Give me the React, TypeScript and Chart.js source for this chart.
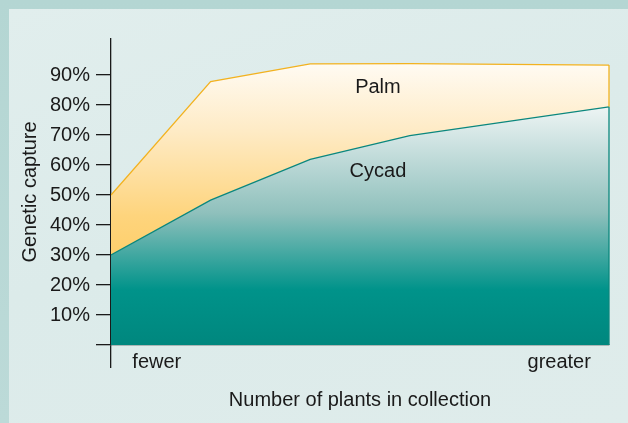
import React, { useEffect, useRef } from 'react';
import { Chart, registerables } from 'chart.js';

Chart.register(...registerables);

// ---- data ----
const xPositions = [0, 1, 2, 3, 5];
const cycadValues = [30, 48.3, 61.9, 69.8, 79.4];
const palmValues = [50, 87.8, 93.7, 93.8, 93.3];
const seriesNames = ['Cycad', 'Palm'];
const yTickValues = [0, 10, 20, 30, 40, 50, 60, 70, 80, 90];
const xTickValues = [0, 0.46, 4.5];
const xTickLabels = ['', 'fewer', 'greater'];
const seriesLabelX = [2.68, 2.68];
const seriesLabelY = [57.7, 86];
const yAxisTitle = 'Genetic capture';
const xAxisTitle = 'Number of plants in collection';

const FONT = '"Liberation Sans", Arial, Helvetica, sans-serif';
const FS = 20;
const INK = '#1a1a1a';
const PALM_LINE = '#f2b220';
const CYCAD_LINE = '#0b877d';

const areaLabelsPlugin = {
  id: 'areaLabels',
  afterDatasetsDraw(chart: any) {
    const { ctx, scales } = chart;
    const xs = scales.x;
    const ys = scales.y;
    const last = xPositions.length - 1;
    const xr = xs.getPixelForValue(xPositions[last]);
    ctx.save();
    // closing edges of the areas at the right end
    ctx.lineWidth = 1.3;
    ctx.strokeStyle = PALM_LINE;
    ctx.beginPath();
    ctx.moveTo(xr, ys.getPixelForValue(palmValues[last]));
    ctx.lineTo(xr, ys.getPixelForValue(cycadValues[last]));
    ctx.stroke();
    ctx.strokeStyle = CYCAD_LINE;
    ctx.beginPath();
    ctx.moveTo(xr, ys.getPixelForValue(cycadValues[last]));
    ctx.lineTo(xr, ys.getPixelForValue(0));
    ctx.stroke();
    // area labels
    ctx.fillStyle = INK;
    ctx.font = `${FS}px ${FONT}`;
    ctx.textAlign = 'center';
    ctx.textBaseline = 'middle';
    seriesNames.forEach((name, i) => {
      ctx.fillText(name, xs.getPixelForValue(seriesLabelX[i]), ys.getPixelForValue(seriesLabelY[i]));
    });
    ctx.restore();
  },
};

function cycadFill(context: any) {
  const chart = context.chart;
  if (!chart.chartArea) return 'rgba(0,137,128,0.8)';
  const ys = chart.scales.y;
  const top = ys.getPixelForValue(80);
  const bottom = ys.getPixelForValue(0);
  const g = chart.ctx.createLinearGradient(0, top, 0, bottom);
  g.addColorStop(0, '#eff5f5');
  g.addColorStop(0.45, '#8fc0bc');
  g.addColorStop(0.77, '#00938a');
  g.addColorStop(1, '#00877e');
  return g;
}

function palmFill(context: any) {
  const chart = context.chart;
  if (!chart.chartArea) return 'rgba(255,210,120,0.8)';
  const ys = chart.scales.y;
  const top = ys.getPixelForValue(94);
  const bottom = ys.getPixelForValue(30);
  const g = chart.ctx.createLinearGradient(0, top, 0, bottom);
  g.addColorStop(0, '#fffbf3');
  g.addColorStop(0.35, '#feebc6');
  g.addColorStop(0.8, '#fed47c');
  g.addColorStop(1, '#fecf6c');
  return g;
}

export default function App() {
  const canvasRef = useRef<HTMLCanvasElement | null>(null);

  useEffect(() => {
    const canvas = canvasRef.current;
    if (!canvas) return;
    const chart = new Chart(canvas, {
      type: 'line',
      data: {
        datasets: [
          {
            label: seriesNames[0],
            data: xPositions.map((x, i) => ({ x, y: cycadValues[i] })),
            borderColor: CYCAD_LINE,
            borderWidth: 1.3,
            backgroundColor: cycadFill,
            fill: 'origin',
            pointRadius: 0,
            tension: 0,
          },
          {
            label: seriesNames[1],
            data: xPositions.map((x, i) => ({ x, y: palmValues[i] })),
            borderColor: PALM_LINE,
            borderWidth: 1.3,
            backgroundColor: palmFill,
            fill: '-1',
            pointRadius: 0,
            tension: 0,
          },
        ],
      },
      options: {
        responsive: false,
        animation: false,
        devicePixelRatio: 1,
        layout: { padding: { left: 0, right: 19, top: 39, bottom: 0 } },
        plugins: {
          legend: { display: false },
          tooltip: { enabled: false },
          title: { display: false },
        },
        scales: {
          x: {
            type: 'linear',
            min: 0,
            max: 5,
            afterBuildTicks: (scale: any) => {
              scale.ticks = xTickValues.map((v) => ({ value: v }));
            },
            afterFit: (scale: any) => {
              scale.height = 78;
            },
            border: { display: true, color: INK, width: 1.3 },
            grid: {
              drawOnChartArea: false,
              drawTicks: true,
              tickLength: 23,
              lineWidth: 1.3,
              tickColor: (ctx: any) => (ctx.tick && ctx.tick.value === 0 ? INK : 'rgba(0,0,0,0)'),
            },
            ticks: {
              autoSkip: false,
              maxRotation: 0,
              padding: -18,
              color: INK,
              font: { family: FONT, size: FS },
              callback: (_v: any, i: number) => xTickLabels[i],
            },
            title: {
              display: true,
              text: xAxisTitle,
              color: INK,
              font: { family: FONT, size: FS },
              padding: { top: 0, bottom: 11 },
            },
          },
          y: {
            type: 'linear',
            min: 0,
            max: 102,
            afterBuildTicks: (scale: any) => {
              scale.ticks = yTickValues.map((v) => ({ value: v }));
            },
            afterFit: (scale: any) => {
              scale.width = 111;
            },
            border: { display: true, color: INK, width: 1.3 },
            grid: {
              drawOnChartArea: false,
              drawTicks: true,
              tickLength: 15,
              lineWidth: 1.3,
              tickColor: INK,
            },
            ticks: {
              padding: 6,
              color: INK,
              font: { family: FONT, size: FS },
              callback: (v: any) => (v === 0 ? '' : `${v}%`),
            },
            title: {
              display: true,
              text: yAxisTitle,
              color: INK,
              font: { family: FONT, size: FS },
              padding: { top: 18, bottom: 0 },
            },
          },
        },
      },
      plugins: [areaLabelsPlugin],
    } as any);
    return () => chart.destroy();
  }, []);

  return (
    <div
      style={{
        position: 'fixed',
        left: 0,
        top: 0,
        width: 628,
        height: 423,
        background: 'linear-gradient(180deg, #b4d6d3 0%, #bcdad8 100%)',
        overflow: 'hidden',
      }}
    >
      <div
        style={{
          position: 'absolute',
          left: 9,
          top: 9,
          right: 0,
          bottom: 0,
          background: 'linear-gradient(160deg, #e1eeed 0%, #dcebea 45%, #dfeceb 100%)',
        }}
      />
      <canvas
        ref={canvasRef}
        width={628}
        height={423}
        style={{ position: 'absolute', left: 0, top: 0, width: 628, height: 423 }}
      />
    </div>
  );
}
